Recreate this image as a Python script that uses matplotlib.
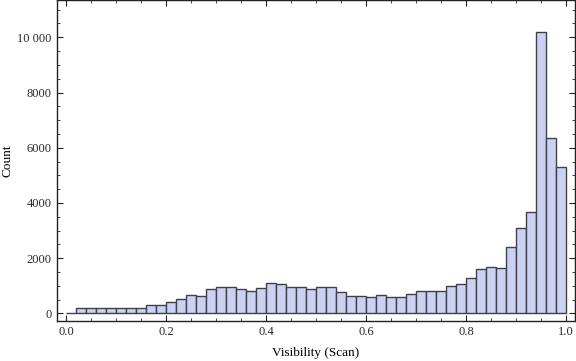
import numpy as np
import matplotlib
matplotlib.use("Agg")
import matplotlib.pyplot as plt
from matplotlib.ticker import MultipleLocator, FuncFormatter

# bin edges 0.00 .. 1.00 in steps of 0.02, counts
bin_left = [round(0.02 * i, 2) for i in range(50)]
counts = [0,
          180, 180, 180, 180, 180, 180, 180, 290, 290, 400,
          540, 650, 615, 870, 940, 940, 870, 800, 905, 1085,
          1050, 940, 940, 870, 975, 940, 760, 615, 615, 580,
          650, 580, 580, 690, 800, 800, 820, 1000, 1075, 1290,
          1620, 1690, 1655, 2415, 3100, 3680, 10190, 6360, 5300]
bin_width = 0.02

plt.rcParams['font.family'] = ['Liberation Serif', 'DejaVu Serif']
plt.rcParams['font.size'] = 9

fig = plt.figure(figsize=(5.76, 3.61), dpi=100)
ax = fig.add_axes([0.099, 0.111, 0.899, 0.889])

ax.bar(bin_left, counts, width=bin_width, align='edge',
       color='#cbd1f3', edgecolor='#404048', linewidth=1.0)

ax.set_xlim(-0.018, 1.018)
ax.set_ylim(-271, 11350)

ax.xaxis.set_major_locator(MultipleLocator(0.2))
ax.xaxis.set_minor_locator(MultipleLocator(0.05))
ax.yaxis.set_major_locator(MultipleLocator(2000))
ax.yaxis.set_minor_locator(MultipleLocator(500))

def yfmt(v, pos):
    v = int(round(v))
    if v >= 10000:
        return '{:,}'.format(v).replace(',', ' ')
    return str(v)

ax.xaxis.set_major_formatter(FuncFormatter(lambda v, p: '%.1f' % v))
ax.yaxis.set_major_formatter(FuncFormatter(yfmt))

ax.tick_params(which='both', direction='in', top=True, right=True,
               labeltop=False, labelright=False, color='#222222',
               labelcolor='#2a2a2a', labelsize=9)
ax.tick_params(which='major', length=4, width=0.8, pad=4)
ax.tick_params(which='minor', length=2.2, width=0.6)

for s in ax.spines.values():
    s.set_color('#222222')
    s.set_linewidth(1.0)

ax.set_xlabel('Visibility (Scan)', fontsize=9.5, labelpad=6)
ax.set_ylabel('Count', fontsize=9.5)
ax.yaxis.set_label_coords(-0.085, 0.5)

fig.savefig('out.png', dpi=100)
